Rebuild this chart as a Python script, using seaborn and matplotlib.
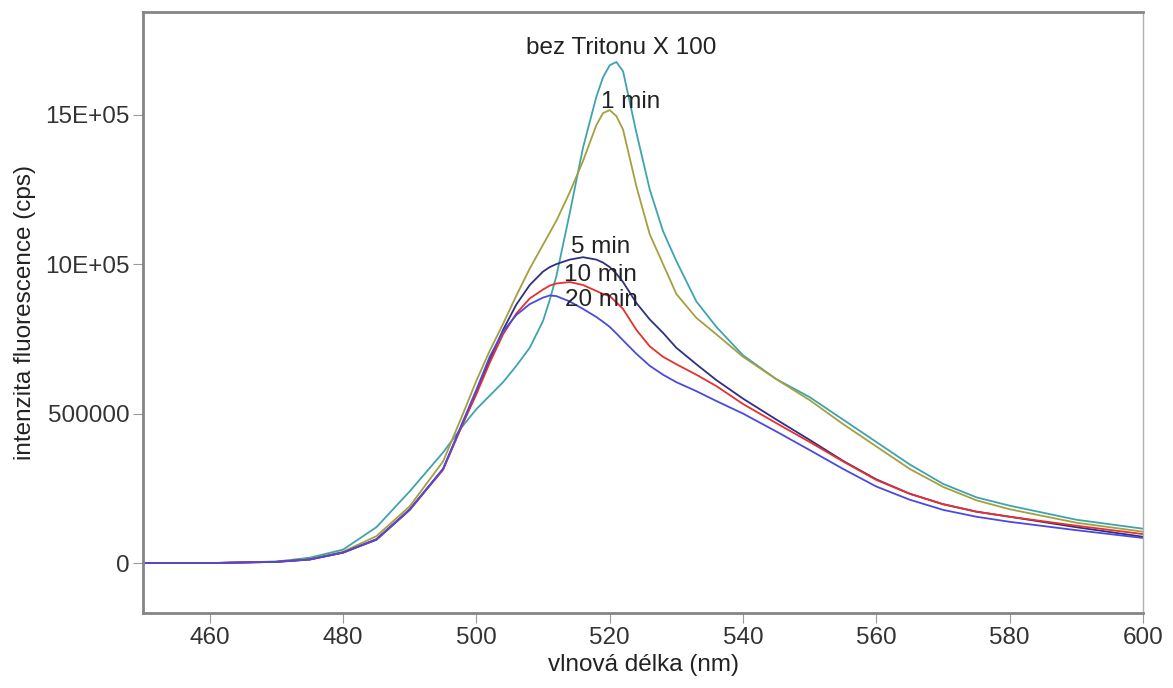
import matplotlib
matplotlib.use("Agg")
import matplotlib.pyplot as plt
import pandas as pd
import seaborn as sns

# wavelength grid (nm) shared by every spectrum
wavelength = [450, 460, 470, 475, 480, 485, 490, 495, 498, 500, 502, 504, 506, 508,
              510, 511, 512, 514, 516, 518, 519, 520, 521, 522, 524, 526, 528, 530,
              533, 536, 540, 545, 550, 555, 560, 565, 570, 575, 580, 590, 600]

bez_tritonu = [0, 0, 5000, 18000, 45000, 120000, 240000, 370000, 460000, 515000, 560000,
               605000, 660000, 720000, 810000, 880000, 960000, 1170000, 1390000, 1560000,
               1625000, 1665000, 1676000, 1645000, 1440000, 1250000, 1110000, 1010000,
               875000, 790000, 695000, 615000, 555000, 480000, 405000, 330000, 265000,
               220000, 192000, 145000, 115000]
min_1 = [0, 0, 5000, 14000, 38000, 90000, 190000, 340000, 500000, 610000, 710000, 800000,
         895000, 985000, 1065000, 1105000, 1145000, 1240000, 1345000, 1465000, 1505000,
         1515000, 1495000, 1450000, 1260000, 1100000, 1000000, 900000, 820000, 765000,
         690000, 615000, 545000, 465000, 390000, 315000, 255000, 210000, 180000, 135000,
         105000]
min_5 = [0, 0, 4000, 12000, 35000, 80000, 180000, 315000, 470000, 570000, 680000, 780000,
         865000, 930000, 975000, 990000, 1000000, 1015000, 1023000, 1015000, 1005000,
         990000, 968000, 940000, 870000, 815000, 770000, 720000, 665000, 612000, 550000,
         480000, 412000, 342000, 280000, 232000, 197000, 172000, 155000, 120000, 88000]
min_10 = [0, 0, 4000, 12000, 35000, 78000, 178000, 312000, 468000, 565000, 670000, 765000,
          835000, 885000, 915000, 928000, 935000, 940000, 930000, 910000, 900000, 893000,
          872000, 850000, 780000, 725000, 690000, 665000, 630000, 592000, 532000, 468000,
          405000, 340000, 278000, 232000, 197000, 172000, 155000, 125000, 97000]
min_20 = [0, 0, 4000, 12000, 35000, 78000, 178000, 315000, 475000, 580000, 690000, 775000,
          830000, 866000, 888000, 895000, 893000, 875000, 850000, 823000, 807000, 790000,
          768000, 745000, 700000, 660000, 630000, 605000, 575000, 542000, 500000, 440000,
          378000, 315000, 256000, 212000, 178000, 155000, 138000, 110000, 84000]

series_names = ["bez Tritonu X 100", "1 min", "5 min", "10 min", "20 min"]
series_values = [bez_tritonu, min_1, min_5, min_10, min_20]
series_colors = ["#3fa3ad", "#a3a040", "#2f2f85", "#e8302c", "#4a4ae0"]

# label anchor positions (data coords)
label_x = [521.7, 523.1, 518.6, 518.6, 518.8]
label_y = [1722000, 1542000, 1057000, 963000, 880000]

x_ticks = [460, 480, 500, 520, 540, 560, 580, 600]
y_ticks = [0, 500000, 1000000, 1500000]
y_tick_labels = ["0", "500000", "10E+05", "15E+05"]

sns.set_theme(style="white")
plt.rcParams["font.family"] = ["Liberation Sans", "DejaVu Sans"]

frames = []
for name, vals in zip(series_names, series_values):
    frames.append(pd.DataFrame({"wl": wavelength, "I": vals, "sample": name}))
data = pd.concat(frames, ignore_index=True)

fig = plt.figure(figsize=(11.73, 6.88), dpi=100)
ax = fig.add_axes([0.122, 0.109, 0.8524, 0.8735])

sns.lineplot(
    data=data,
    x="wl",
    y="I",
    hue="sample",
    hue_order=series_names,
    palette=dict(zip(series_names, series_colors)),
    linewidth=1.3,
    legend=False,
    ax=ax,
)

for name, lx, ly in zip(series_names, label_x, label_y):
    ax.text(lx, ly, name, ha="center", va="center", fontsize=17.5, color="#222222")

ax.set_xlim(450, 600)
ax.set_ylim(-167000, 1843000)
ax.set_xticks(x_ticks)
ax.set_yticks(y_ticks)
ax.set_yticklabels(y_tick_labels)
ax.set_xlabel("vlnová délka (nm)", fontsize=17.5, color="#222222", labelpad=4)
ax.set_ylabel("intenzita fluorescence (cps)", fontsize=17.5, color="#222222", labelpad=6)
ax.tick_params(axis="both", which="major", length=7, width=0.8, color="#9a9a9a",
               labelsize=17.5, labelcolor="#333333", pad=3, direction="out",
               bottom=True, left=True)

for side in ["left", "bottom", "top"]:
    ax.spines[side].set_color("#858585")
    ax.spines[side].set_linewidth(2.0)
ax.spines["right"].set_color("#b0b0b0")
ax.spines["right"].set_linewidth(1.0)

fig.savefig("out.png", dpi=100)
